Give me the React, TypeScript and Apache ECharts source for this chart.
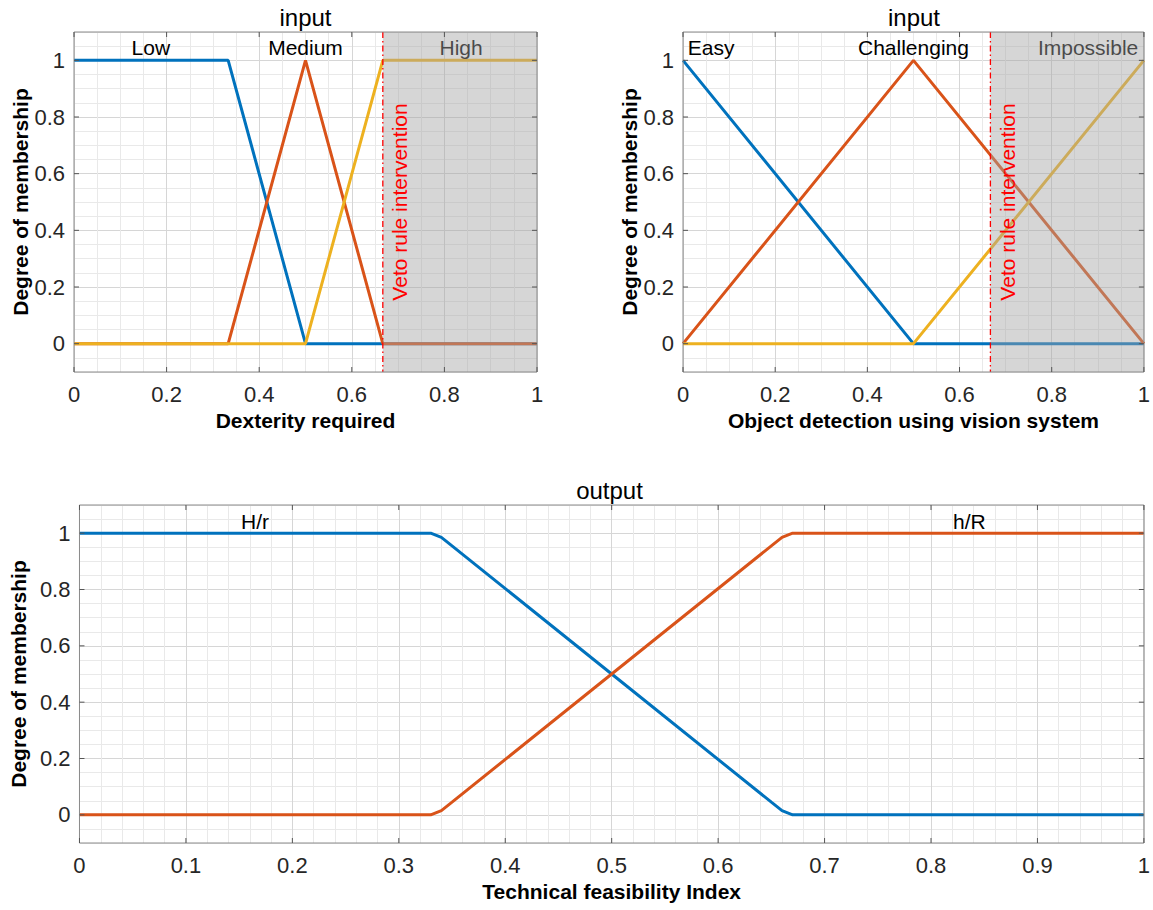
import React, { useEffect, useRef } from 'react';
import * as echarts from 'echarts';

const FONT = '"Liberation Sans", Arial, Helvetica, sans-serif';

// ---- data ----
const dexLow = [[0, 1], [0.333, 1], [0.5, 0], [1, 0]];
const dexMedium = [[0, 0], [0.333, 0], [0.5, 1], [0.667, 0], [1, 0]];
const dexHigh = [[0, 0], [0.5, 0], [0.667, 1], [1, 1]];

const visEasy = [[0, 1], [0.5, 0], [1, 0]];
const visChallenging = [[0, 0], [0.5, 1], [1, 0]];
const visImpossible = [[0, 0], [0.5, 0], [1, 1]];

const outHr = [[0, 1], [0.33, 1], [0.34, 0.985], [0.35, 0.955], [0.5, 0.5], [0.65, 0.045], [0.66, 0.015], [0.67, 0], [1, 0]];
const outhR = [[0, 0], [0.33, 0], [0.34, 0.015], [0.35, 0.045], [0.5, 0.5], [0.65, 0.955], [0.66, 0.985], [0.67, 1], [1, 1]];

const dexLabels: [string, number, number][] = [['Low', 0.166, 1.045], ['Medium', 0.5, 1.045], ['High', 0.836, 1.045]];
const visLabels: [string, number, number][] = [['Easy', 0.061, 1.045], ['Challenging', 0.5, 1.045], ['Impossible', 0.879, 1.045]];
const outLabels: [string, number, number][] = [['H/r', 0.165, 1.04], ['h/R', 0.836, 1.04]];

const vetoX = 0.667;
const vetoTextY = 0.5;
const vetoText = 'Veto rule intervention';

const yMin = -0.1;
const yMax = 1.1;
const yMajorTicks = [0, 0.2, 0.4, 0.6, 0.8, 1];
const inputXTicks = [0, 0.2, 0.4, 0.6, 0.8, 1];
const outputXTicks = [0, 0.1, 0.2, 0.3, 0.4, 0.5, 0.6, 0.7, 0.8, 0.9, 1];

const titles = ['input', 'input', 'output'];
const xNames = ['Dexterity required', 'Object detection using vision system', 'Technical feasibility Index'];
const yName = 'Degree of membership';

const BLUE = '#0072BD';
const ORANGE = '#D95319';
const YELLOW = '#EDB120';
const MAJOR = '#d6d6d6';
const MINOR = '#e9e9e9';
const FRAME = '#8a8a8a';

const grids = [
  { left: 74, top: 32, width: 463, height: 340 },
  { left: 683, top: 32, width: 462, height: 340 },
  { left: 74, top: 505, width: 1071, height: 338 },
];

function isMajor(v: number, major: number) {
  const r = v / major;
  return Math.abs(r - Math.round(r)) < 1e-6;
}

function cycleColors(min: number, step: number, major: number) {
  const per = Math.round(major / step);
  const arr: string[] = [];
  for (let i = 0; i < per; i++) arr.push(isMajor(min + i * step, major) ? MAJOR : MINOR);
  return arr;
}

function fmt(v: number) {
  return String(Math.round(v * 10) / 10);
}

function xAxisCfg(gi: number, step: number, major: number, name: string) {
  return {
    type: 'value', gridIndex: gi, min: 0, max: 1, interval: step,
    name, nameLocation: 'middle', nameGap: 38,
    nameTextStyle: { fontFamily: FONT, fontWeight: 'bold', fontSize: 21, color: '#000' },
    axisLine: { show: false }, axisTick: { show: false },
    axisLabel: {
      fontFamily: FONT, fontSize: 22, color: '#262626', margin: 11,
      showMinLabel: true, showMaxLabel: true,
      formatter: (v: number) => (isMajor(v, major) ? fmt(v) : ''),
    },
    splitLine: { show: true, lineStyle: { color: cycleColors(0, step, major), width: 1 } },
  };
}

function yAxisCfg(gi: number) {
  const step = 0.05, major = 0.2;
  return {
    type: 'value', gridIndex: gi, min: yMin, max: yMax, interval: step,
    name: yName, nameLocation: 'middle', nameGap: 42,
    nameTextStyle: { fontFamily: FONT, fontWeight: 'bold', fontSize: 21, color: '#000' },
    axisLine: { show: false }, axisTick: { show: false },
    axisLabel: {
      fontFamily: FONT, fontSize: 22, color: '#262626', margin: 9,
      showMinLabel: true, showMaxLabel: true,
      formatter: (v: number) => (v > -1e-6 && v < 1 + 1e-6 && isMajor(v, major) ? fmt(v) : ''),
    },
    splitLine: { show: true, lineStyle: { color: cycleColors(yMin, step, major), width: 1 } },
  };
}

function lineSeries(gi: number, data: number[][], color: string) {
  return {
    type: 'line', xAxisIndex: gi, yAxisIndex: gi, data, symbol: 'none', showSymbol: false,
    lineStyle: { color, width: 3 }, itemStyle: { color }, z: 2, silent: true,
  };
}

function labelSeries(gi: number, labels: [string, number, number][]) {
  return {
    type: 'custom', xAxisIndex: gi, yAxisIndex: gi, z: 3, silent: true,
    data: labels.map((l) => [l[1], l[2]]),
    renderItem: (params: any, api: any) => {
      const p = api.coord([api.value(0), api.value(1)]);
      return {
        type: 'text', x: p[0], y: p[1],
        style: { text: labels[params.dataIndex][0], align: 'center', verticalAlign: 'middle', fill: '#000', font: `21px ${FONT}` },
      };
    },
  };
}

function patchSeries(gi: number) {
  return {
    type: 'custom', xAxisIndex: gi, yAxisIndex: gi, z: 4, silent: true,
    data: [[vetoX, yMin, 1, yMax]],
    renderItem: (params: any, api: any) => {
      const a = api.coord([api.value(0), api.value(3)]);
      const b = api.coord([api.value(2), api.value(1)]);
      return {
        type: 'rect', shape: { x: a[0], y: a[1], width: b[0] - a[0], height: b[1] - a[1] },
        style: { fill: 'rgba(165,165,165,0.45)' },
      };
    },
  };
}

function vetoSeries(gi: number) {
  return {
    type: 'custom', xAxisIndex: gi, yAxisIndex: gi, z: 5, silent: true,
    data: [[vetoX, vetoTextY]],
    renderItem: (params: any, api: any) => {
      const top = api.coord([api.value(0), yMax]);
      const bot = api.coord([api.value(0), yMin]);
      const mid = api.coord([api.value(0), api.value(1)]);
      return {
        type: 'group',
        children: [
          {
            type: 'line', shape: { x1: top[0], y1: top[1], x2: bot[0], y2: bot[1] },
            style: { stroke: '#ff0000', lineWidth: 1.3, lineDash: [6, 3, 1.5, 3] },
          },
          {
            type: 'text', x: mid[0] + 17, y: mid[1], rotation: Math.PI / 2,
            style: { text: vetoText, fill: '#ff0000', align: 'center', verticalAlign: 'middle', font: `21px ${FONT}` },
          },
        ],
      };
    },
  };
}

function frameSeries(gi: number, xTicks: number[]) {
  return {
    type: 'custom', xAxisIndex: gi, yAxisIndex: gi, z: 6, silent: true,
    data: [[0, 0]],
    renderItem: (params: any, api: any) => {
      const tl = api.coord([0, yMax]);
      const br = api.coord([1, yMin]);
      const L = 5;
      const children: any[] = [
        { type: 'rect', shape: { x: tl[0], y: tl[1], width: br[0] - tl[0], height: br[1] - tl[1] }, style: { fill: 'none', stroke: FRAME, lineWidth: 1 } },
      ];
      xTicks.forEach((v) => {
        const p = api.coord([v, yMin]);
        const q = api.coord([v, yMax]);
        children.push({ type: 'line', shape: { x1: p[0], y1: p[1], x2: p[0], y2: p[1] - L }, style: { stroke: '#555', lineWidth: 1 } });
        children.push({ type: 'line', shape: { x1: q[0], y1: q[1], x2: q[0], y2: q[1] + L }, style: { stroke: '#555', lineWidth: 1 } });
      });
      yMajorTicks.forEach((v) => {
        const p = api.coord([0, v]);
        const q = api.coord([1, v]);
        children.push({ type: 'line', shape: { x1: p[0], y1: p[1], x2: p[0] + L, y2: p[1] }, style: { stroke: '#555', lineWidth: 1 } });
        children.push({ type: 'line', shape: { x1: q[0], y1: q[1], x2: q[0] - L, y2: q[1] }, style: { stroke: '#555', lineWidth: 1 } });
      });
      return { type: 'group', children };
    },
  };
}

export default function App() {
  const ref = useRef<HTMLDivElement>(null);
  useEffect(() => {
    if (!ref.current) return;
    const chart = echarts.init(ref.current, null, { renderer: 'svg' });
    const option: any = {
      animation: false,
      backgroundColor: '#ffffff',
      grid: grids.map((g) => ({ ...g, containLabel: false })),
      xAxis: [
        xAxisCfg(0, 0.05, 0.2, xNames[0]),
        xAxisCfg(1, 0.05, 0.2, xNames[1]),
        xAxisCfg(2, 0.02, 0.1, xNames[2]),
      ],
      yAxis: [yAxisCfg(0), yAxisCfg(1), yAxisCfg(2)],
      graphic: grids.map((g, i) => ({
        type: 'text', x: g.left + g.width / 2, y: g.top - 15,
        style: { text: titles[i], align: 'center', verticalAlign: 'middle', fill: '#000', font: `24px ${FONT}` },
      })),
      series: [
        lineSeries(0, dexLow, BLUE),
        lineSeries(0, dexMedium, ORANGE),
        lineSeries(0, dexHigh, YELLOW),
        labelSeries(0, dexLabels),
        patchSeries(0),
        vetoSeries(0),
        frameSeries(0, inputXTicks),
        lineSeries(1, visEasy, BLUE),
        lineSeries(1, visChallenging, ORANGE),
        lineSeries(1, visImpossible, YELLOW),
        labelSeries(1, visLabels),
        patchSeries(1),
        vetoSeries(1),
        frameSeries(1, inputXTicks),
        lineSeries(2, outHr, BLUE),
        lineSeries(2, outhR, ORANGE),
        labelSeries(2, outLabels),
        frameSeries(2, outputXTicks),
      ],
    };
    chart.setOption(option);
    return () => chart.dispose();
  }, []);
  return <div ref={ref} style={{ position: 'absolute', left: 0, top: 0, width: 1153, height: 910 }} />;
}
